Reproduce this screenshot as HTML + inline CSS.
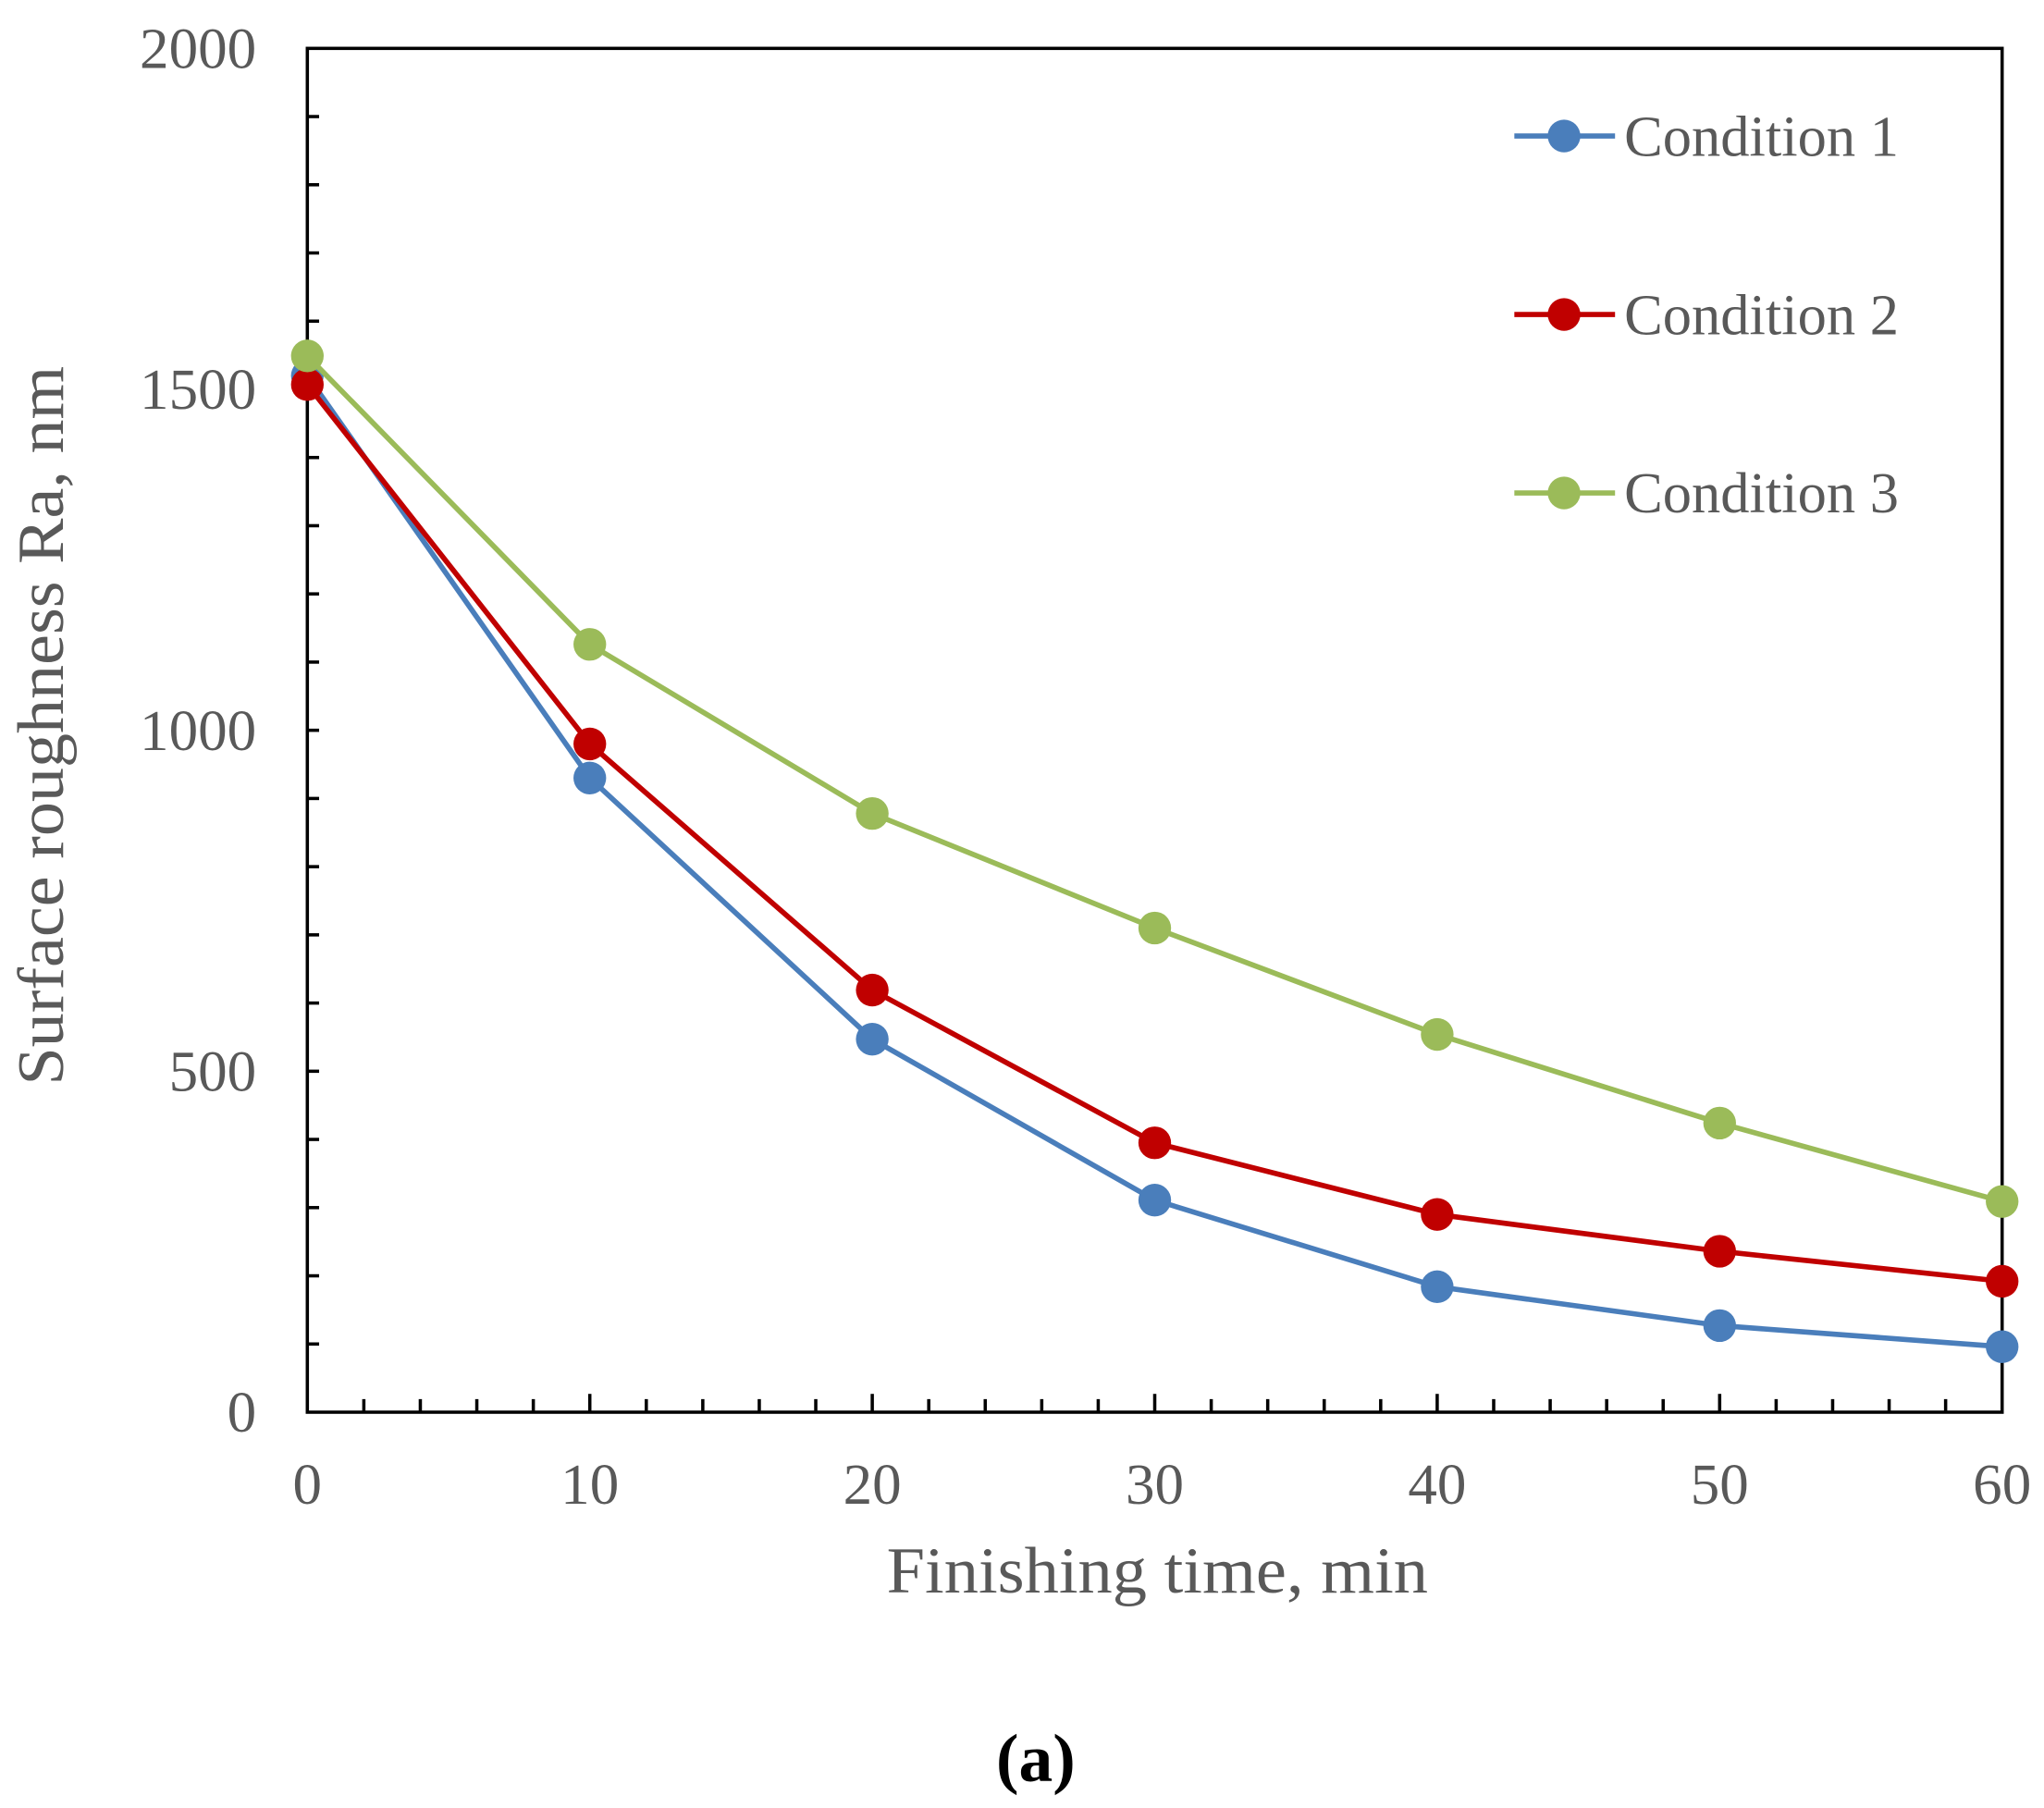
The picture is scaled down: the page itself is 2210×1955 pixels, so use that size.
<!DOCTYPE html>
<html><head><meta charset="utf-8"><style>
html,body{margin:0;padding:0;background:#fff;}
svg{display:block;}
text{font-family:"Liberation Serif",serif;fill:#595959;}
</style></head><body>
<svg id="chart" width="2210" height="1955" viewBox="0 0 1563 1382.7" xmlns="http://www.w3.org/2000/svg">
<g id="axes"></g>
<g id="series"></g>
<g id="legend"></g>
<text transform="translate(48,555) rotate(-90)" text-anchor="middle" font-size="50" textLength="550" lengthAdjust="spacingAndGlyphs">Surface  roughness  Ra, nm</text>
<text x="885" y="1218" text-anchor="middle" font-size="50" textLength="414" lengthAdjust="spacingAndGlyphs">Finishing  time, min</text>
<text x="792" y="1362" text-anchor="middle" font-size="52" font-weight="bold" style="fill:#000">(a)</text>
</svg>
<script>
const xValues = [0, 10, 20, 30, 40, 50, 60];
const cond1 = [1520, 930, 547, 311, 184, 127, 96];
const cond2 = [1507, 980, 619, 395, 290, 236, 192];
const cond3 = [1549, 1126, 878, 710, 554, 424, 309];
const seriesNames = ["Condition 1", "Condition 2", "Condition 3"];
const seriesColors = ["#4a7ebb", "#c00000", "#9bbb59"];
const xTicks = [0, 10, 20, 30, 40, 50, 60];
const yTicks = [0, 500, 1000, 1500, 2000];

const NS = "http://www.w3.org/2000/svg";
const L = 235, R = 1531, T = 37, B = 1080;
function sx(v){ return L + (v - 0) / 60 * (R - L); }
function sy(v){ return B - v / 2000 * (B - T); }
function mk(tag, attrs, parent){
  const e = document.createElementNS(NS, tag);
  for (const k in attrs) e.setAttribute(k, attrs[k]);
  parent.appendChild(e); return e;
}
const axes = document.getElementById('axes');
const frame = mk('rect', {x:L, y:T, width:R-L, height:B-T, fill:'none', stroke:'#000', 'stroke-width':2.5}, axes);


for (let v = 100; v < 2000; v += 100) {
  const t = mk('line', {x1:L, x2:L+9, y1:sy(v), y2:sy(v), stroke:'#000', 'stroke-width':2.5}, axes);
  
  
}
for (let v = 2; v < 60; v += 2) {
  const len = (v % 10 === 0) ? 14 : 10;
  const t = mk('line', {x1:sx(v), x2:sx(v), y1:B, y2:B-len, stroke:'#000', 'stroke-width':2.5}, axes);
  
  
}
yTicks.forEach(v => {
  const s = String(v);
  const t = mk('text', {x:196, y:sy(v)+15, 'text-anchor':'end', 'font-size':44, textLength:22.3*s.length, lengthAdjust:'spacingAndGlyphs'}, axes);
  t.textContent = v;
  
  
});
xTicks.forEach(v => {
  const s = String(v);
  const t = mk('text', {x:sx(v), y:1150, 'text-anchor':'middle', 'font-size':44, textLength:22.3*s.length, lengthAdjust:'spacingAndGlyphs'}, axes);
  t.textContent = v;
  
  
});
const series = document.getElementById('series');
[cond1, cond2, cond3].forEach((vals, i) => {
  const g = mk('g', {}, series);
  
  
  const pts = vals.map((v, j) => sx(xValues[j]) + ',' + sy(v)).join(' ');
  const pl = mk('polyline', {points:pts, fill:'none', stroke:seriesColors[i], 'stroke-width':4}, g);
  
  
  vals.forEach((v, j) => {
    const c = mk('circle', {cx:sx(xValues[j]), cy:sy(v), r:12.5, fill:seriesColors[i]}, g);
    
    
  });
});
const legend = document.getElementById('legend');
seriesNames.forEach((n, i) => {
  const y = 104 + i * 136.5;
  const g = mk('g', {}, legend);
  
  
  mk('line', {x1:1158, x2:1235, y1:y, y2:y, stroke:seriesColors[i], 'stroke-width':4}, g);
  mk('circle', {cx:1196, cy:y, r:12.5, fill:seriesColors[i]}, g);
  const t = mk('text', {x:1242, y:y+15, 'font-size':44, textLength:210, lengthAdjust:'spacingAndGlyphs'}, g);
  t.textContent = n;
});
</script>
</body></html>
